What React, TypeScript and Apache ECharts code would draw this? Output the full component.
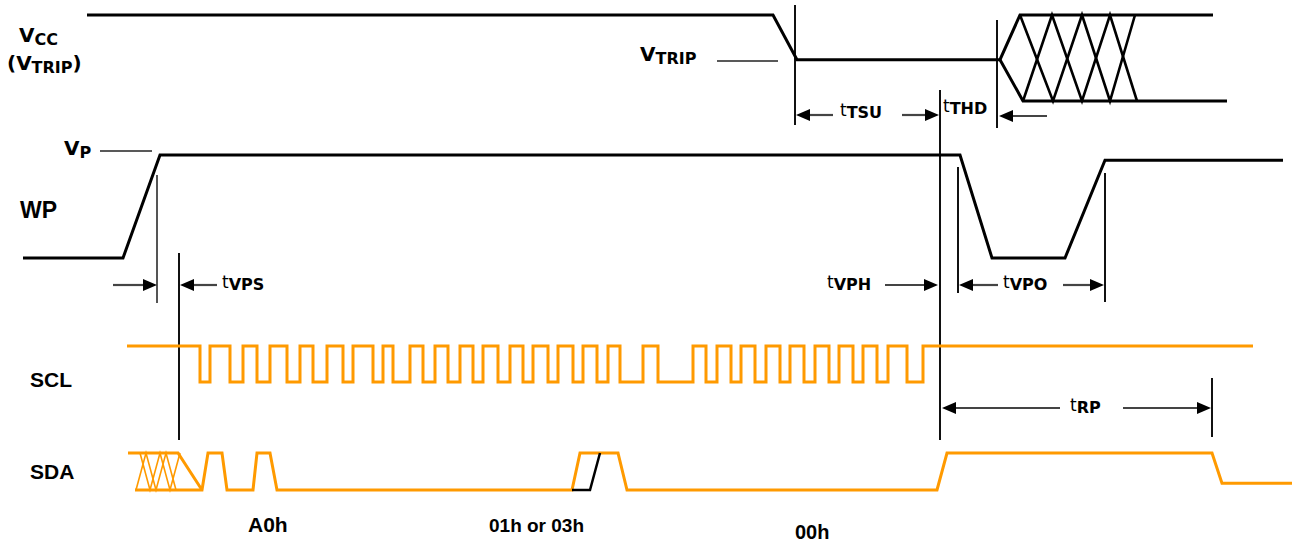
import React, { useEffect, useRef } from "react";
import * as echarts from "echarts";

const W = 1293;
const H = 546;
const FONT = '"Liberation Sans", Arial, Helvetica, sans-serif';
const WIDE = '"DejaVu Sans", "Liberation Sans", Arial, sans-serif';
const ORANGE = "#FF9A00";

// ---- waveform data: [time, level] (level 1 = high, 0 = low) ----
const vccMain = [[87, 1], [773, 1], [797, 0.48], [1000, 0.48], [1020, 1], [1213, 1]];
const vccLower = [[1000, 0.48], [1023, 0], [1227, 0]];
const vccHatchA = [[1020, 1], [1053, 0], [1082, 1], [1110, 0], [1135, 1]];
const vccHatchB = [[1023, 0], [1052, 1], [1082, 0], [1110, 1], [1137, 0]];

const wpWave = [[23, 0], [123, 0], [160, 1], [960, 1], [992, 0], [1065, 0], [1105, 0.95], [1283, 0.95]];

const sclStart = 127;
const sclEnd = 1253;
const sclToggles = [
  200, 210, 230, 243, 257, 270, 287, 300, 313, 327, 343, 353, 373, 383, 393, 410,
  423, 435, 448, 460, 473, 483, 498, 510, 523, 533, 548, 558, 573, 583, 597, 608,
  620, 643, 658, 693, 706, 717, 731, 741, 755, 766, 780, 790, 804, 815, 829, 839,
  853, 863, 877, 888, 907, 923,
];

const sdaTop = [[128, 1], [178, 1], [202, 0]];
const sdaWave = [
  [135, 0], [202, 0], [208, 1], [222, 1], [227, 0], [253, 0], [257, 1], [270, 1], [277, 0],
  [572, 0], [580, 1], [618, 1], [627, 0], [937, 0], [947, 1], [1212, 1], [1222, 0.18], [1292, 0.18],
];
const sdaHatchA = [[136, 0], [146, 1], [156, 0], [166, 1], [176, 0]];
const sdaHatchB = [[140, 1], [150, 0], [160, 1], [170, 0], [180, 1]];
const sdaBlack = [[572, 0], [590, 0], [600, 1]];

const byteLabels = ["A0h", "01h or 03h", "00h"];

function buildSteps(start: number, end: number, toggles: number[]) {
  const pts: number[][] = [[start, 1]];
  let lvl = 1;
  for (const t of toggles) {
    pts.push([t, lvl]);
    lvl = 1 - lvl;
    pts.push([t, lvl]);
  }
  pts.push([end, lvl]);
  return pts;
}

function sub(main: string, s: string, x: number, y: number, mainSize: number, subSize: number, mainBold = true, tail = "") {
  const rich: any = {
    m: {
      fontSize: mainSize,
      fontWeight: mainBold ? "bold" : "normal",
      fontFamily: WIDE,
      fill: "#000",
      lineHeight: mainSize + 2,
      verticalAlign: "top",
    },
    s: {
      fontSize: subSize,
      fontWeight: "bold",
      fontFamily: WIDE,
      fill: "#000",
      lineHeight: subSize,
      verticalAlign: "bottom",
      padding: [Math.round(subSize * 0.7), 0, 0, 0],
    },
  };
  return {
    type: "text",
    x,
    y,
    style: {
      text: `{m|${main}}{s|${s}}` + (tail ? `{m|${tail}}` : ""),
      align: "left",
      verticalAlign: "top",
      rich,
    },
  };
}

function plain(text: string, x: number, y: number, size: number) {
  return {
    type: "text",
    x,
    y,
    style: { text, fontSize: size, fontWeight: "bold", fontFamily: FONT, fill: "#000", align: "left", verticalAlign: "top" },
  };
}

function vline(x: number, y1: number, y2: number, w = 2, c = "#111") {
  return { type: "line", shape: { x1: x, y1, x2: x, y2 }, style: { stroke: c, lineWidth: w } };
}
function hline(x1: number, x2: number, y: number, w = 1.5, c = "#222") {
  return { type: "line", shape: { x1, y1: y, x2, y2: y }, style: { stroke: c, lineWidth: w } };
}
// arrow with head at xHead pointing toward it, shaft from xTail
function arrow(xTail: number, xHead: number, y: number) {
  const dir = xHead > xTail ? 1 : -1;
  const L = 14;
  const h = 6;
  return [
    { type: "line", shape: { x1: xTail, y1: y, x2: xHead - dir * L, y2: y }, style: { stroke: "#444", lineWidth: 2.2 } },
    {
      type: "polygon",
      shape: { points: [[xHead, y], [xHead - dir * L, y - h], [xHead - dir * L, y + h]] },
      style: { fill: "#000" },
    },
  ];
}

const lanes = [
  { top: 15, height: 86 },
  { top: 155, height: 103 },
  { top: 346, height: 36 },
  { top: 453, height: 37 },
];

function lineSeries(data: number[][], lane: number, color: string, width = 3) {
  return {
    type: "line",
    xAxisIndex: lane,
    yAxisIndex: lane,
    data,
    symbol: "none",
    clip: false,
    silent: true,
    lineStyle: { color, width, join: "miter" },
  };
}

export default function App() {
  const ref = useRef<HTMLDivElement>(null);
  useEffect(() => {
    if (!ref.current) return;
    const chart = echarts.init(ref.current, undefined, { renderer: "svg" });
    const sclWave = buildSteps(sclStart, sclEnd, sclToggles);

    const graphics: any[] = [
      // signal names
      sub("V", "CC", 19, 25, 20, 16),
      sub("(V", "TRIP", 7, 53, 20, 16, true, ")"),
      sub("V", "TRIP", 640, 44, 20, 16),
      sub("V", "P", 64, 138, 20, 16),
      plain("WP", 20, 198, 23),
      plain("SCL", 30, 369, 21),
      plain("SDA", 30, 461, 21),
      plain(byteLabels[0], 248, 514, 21),
      plain(byteLabels[1], 489, 516, 19),
      plain(byteLabels[2], 795, 522, 20),
      // level markers
      hline(717, 778, 61),
      hline(100, 152, 151),
      // vertical markers
      vline(795, 5, 125),
      vline(997, 20, 128),
      vline(940, 90, 440),
      vline(157, 175, 303, 2, "#555"),
      vline(179, 253, 440),
      vline(958, 167, 293),
      vline(1105, 173, 302),
      vline(1212, 378, 437),
      // arrows
      ...arrow(113, 157, 285),
      ...arrow(217, 180, 285),
      ...arrow(885, 938, 285),
      ...arrow(998, 959, 285),
      ...arrow(1063, 1104, 285),
      ...arrow(833, 796, 115),
      ...arrow(902, 939, 115),
      ...arrow(1047, 999, 116),
      ...arrow(1060, 942, 408),
      ...arrow(1123, 1211, 408),
      // timing labels
      sub("t", "VPS", 222, 273, 17, 16, false),
      sub("t", "VPH", 827, 273, 17, 16, false),
      sub("t", "VPO", 1003, 273, 17, 16, false),
      sub("t", "TSU", 840, 101, 17, 16, false),
      sub("t", "THD", 943, 97, 17, 16, false),
      sub("t", "RP", 1070, 396, 17, 16, false),
    ];

    chart.setOption({
      animation: false,
      grid: lanes.map((l) => ({ left: 0, width: W, top: l.top, height: l.height, show: false })),
      xAxis: lanes.map((_, i) => ({ type: "value", gridIndex: i, min: 0, max: W, show: false })),
      yAxis: lanes.map((_, i) => ({ type: "value", gridIndex: i, min: 0, max: 1, show: false })),
      series: [
        lineSeries(vccMain, 0, "#000"),
        lineSeries(vccLower, 0, "#000"),
        lineSeries(vccHatchA, 0, "#000", 2.6),
        lineSeries(vccHatchB, 0, "#000", 2.6),
        lineSeries(wpWave, 1, "#000"),
        lineSeries(sclWave, 2, ORANGE),
        lineSeries(sdaTop, 3, ORANGE),
        lineSeries(sdaWave, 3, ORANGE),
        lineSeries(sdaHatchA, 3, ORANGE, 1.6),
        lineSeries(sdaHatchB, 3, ORANGE, 1.6),
        lineSeries(sdaBlack, 3, "#000", 2.5),
      ],
      graphic: graphics,
    });
    return () => chart.dispose();
  }, []);
  return (
    <div
      ref={ref}
      style={{ position: "absolute", left: 0, top: 0, width: W, height: H, background: "#fff" }}
    />
  );
}
